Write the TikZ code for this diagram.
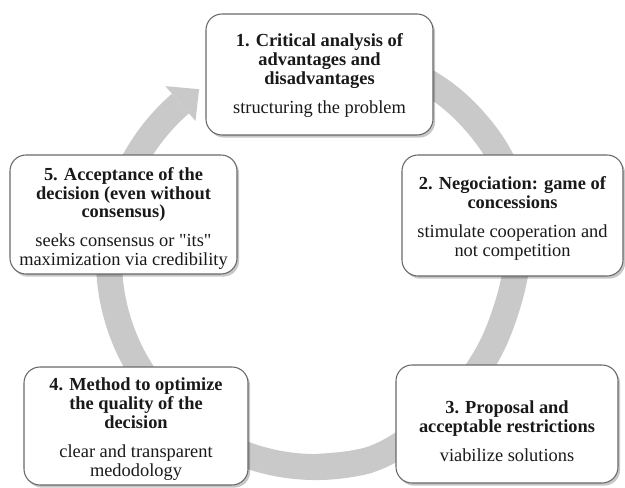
\documentclass[tikz,border=0pt]{standalone}
\usepackage{fontspec}
\setmainfont{Liberation Serif}
\font\plainq="Liberation Serif" at 13.8pt
\usetikzlibrary{shadows,calc}
\definecolor{ringgray}{RGB}{201,201,201}
\definecolor{boxborder}{RGB}{105,105,105}
\definecolor{txt}{RGB}{25,25,25}
\newcommand{\dq}{{\plainq\char34}}
\begin{document}
\begin{tikzpicture}[x=0.75pt,y=0.75pt,
  box/.style={draw=boxborder, line width=0.8pt, fill=white, rounded corners=12pt,
    inner sep=0pt,
    drop shadow={shadow xshift=1.6pt, shadow yshift=-2pt, opacity=0.22, fill=black}},
  boxtext/.style={align=center, inner sep=0pt, text=txt, font=\fontsize{13.8}{14.2}\selectfont},
  ring/.style={draw=ringgray, line width=19.5pt},
  ringhead/.style={fill=ringgray, draw=none}]
\useasboundingbox (0,0) rectangle (625,488);
\coordinate (rc) at (316,228);
% ring: right part (smooth), left part (circular arc) and arrow head
\draw[ring] plot[smooth, tension=0.6] coordinates {(316,435) (372,428) (424,408) (466,376) (500,331) (518,278) (517,226) (506,178) (487,133) (456,90) (415,53) (369,28) (316,21)};
\draw[ring] ($(rc)+(-75:207)$) arc[start angle=-75, end angle=-229.1, radius=155.25pt];
\fill[ringhead] ($(rc)+(130.9:230)$) coordinate (hw1) -- ($(rc)+(124.4:207)$) coordinate (htip) -- ($(rc)+(130.9:184)$) coordinate (hw2) -- cycle;
% boxes
\node[box, minimum width=170.25pt, minimum height=90.75pt] (b1) at (319.5,413.5) {};
\node[box, minimum width=165.75pt, minimum height=90.75pt] (b2) at (512.5,272.5) {};
\node[box, minimum width=166.5pt, minimum height=88.5pt] (b3) at (507,64) {};
\node[box, minimum width=168pt, minimum height=88.5pt] (b4) at (136,62) {};
\node[box, minimum width=170.25pt, minimum height=89.25pt] (b5) at (123.5,273.5) {};
% texts
\node[boxtext] (t1) at ($(b1.center)+(0,-1)$)
  {\textbf{1. Critical analysis of}\\ \textbf{advantages and}\\ \textbf{disadvantages}\\[7.5pt] structuring the problem};
\node[boxtext] (t2) at ($(b2.center)+(0,-3)$)
  {\textbf{2. Negociation: game of}\\ \textbf{concessions}\\[7.5pt] stimulate cooperation and\\ not competition};
\node[boxtext] (t3) at ($(b3.center)+(0,-7)$)
  {\textbf{3. Proposal and}\\ \textbf{acceptable restrictions}\\[7.5pt] viabilize solutions};
\node[boxtext] (t4) at ($(b4.center)+(0,-3)$)
  {\textbf{4. Method to optimize}\\ \textbf{the quality of the}\\ \textbf{decision}\\[7.5pt] clear and transparent\\ medodology};
\node[boxtext] (t5) at ($(b5.center)+(0,-4)$)
  {\textbf{5. Acceptance of the}\\ \textbf{decision (even without}\\ \textbf{consensus)}\\[7.5pt] seeks consensus or \dq its\dq\\ maximization via credibility};
\end{tikzpicture}
\end{document}
